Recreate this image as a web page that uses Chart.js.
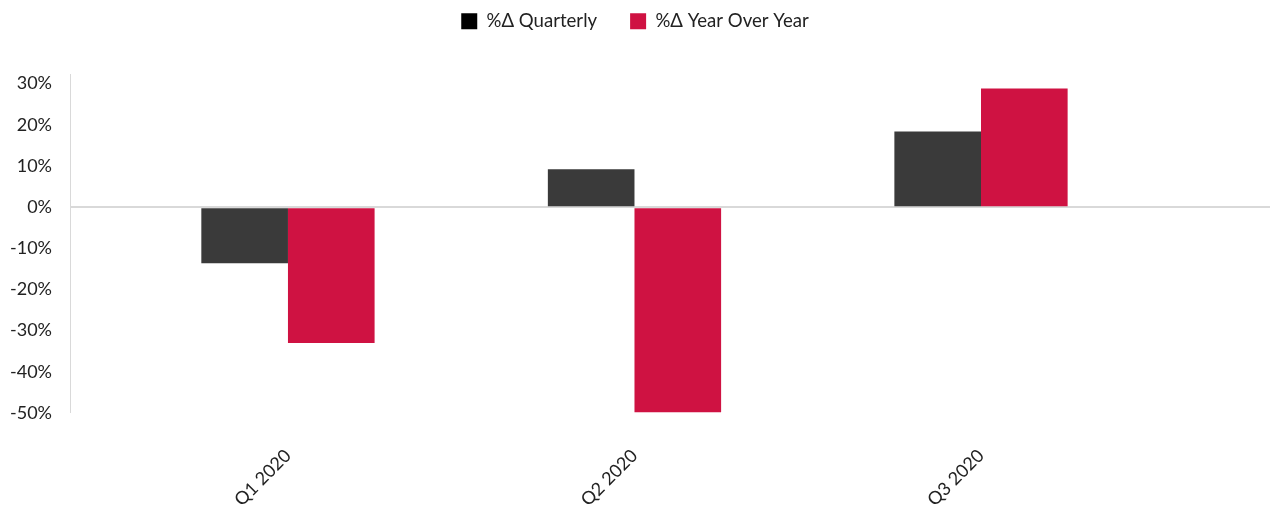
<!DOCTYPE html>
<html>
<head>
<meta charset="utf-8">
<script src="https://cdn.jsdelivr.net/npm/chart.js@4/dist/chart.umd.min.js"></script>
<style>
  html, body { margin: 0; padding: 0; background: #ffffff; }
  #wrap { width: 1270px; height: 510px; position: relative; }
</style>
</head>
<body>
<div id="wrap"><canvas id="c"></canvas></div>
<script>
// ---- data ----
const categories = ['Q1 2020', 'Q2 2020', 'Q3 2020'];
const quarterly = [-13.6, 9.2, 18.4];
const yearOverYear = [-33.0, -49.8, 28.8];
const seriesNames = ['%\u0394 Quarterly', '%\u0394 Year Over Year'];
const yTicks = [-50, -40, -30, -20, -10, 0, 10, 20, 30];

// ---- styles ----
const DARK = '#3a3a3a';
const RED = '#cf1242';
const TEXT = '#222222';
const FONT = 'Lato, "Open Sans", sans-serif';

const toPoints = (vals) => categories.map((c, i) => ({ x: i, y: vals[i] }));

const legendSpacer = {
  id: 'legendSpacer',
  beforeInit(chart) {
    const lg = chart.legend;
    if (!lg) return;
    const orig = lg.fit;
    lg.fit = function () {
      orig.call(this);
      this.height += 34;
    };
  }
};

Chart.defaults.font.family = FONT;
Chart.defaults.color = TEXT;

new Chart(document.getElementById('c'), {
  type: 'bar',
  data: {
    datasets: [
      { label: seriesNames[0], data: toPoints(quarterly), backgroundColor: DARK, borderWidth: 0 },
      { label: seriesNames[1], data: toPoints(yearOverYear), backgroundColor: RED, borderWidth: 0 }
    ]
  },
  options: {
    responsive: true,
    maintainAspectRatio: false,
    devicePixelRatio: 1,
    animation: false,
    datasets: { bar: { categoryPercentage: 0.5, barPercentage: 1.0 } },
    layout: { padding: { top: -21, left: 0, right: 0, bottom: 0 } },
    plugins: {
      tooltip: { enabled: false },
      legend: {
        position: 'top',
        labels: {
          boxWidth: 16,
          boxHeight: 16,
          padding: 33,
          color: TEXT,
          font: { family: FONT, size: 18.6 },
          generateLabels(chart) {
            const items = Chart.defaults.plugins.legend.labels.generateLabels(chart);
            items.forEach((it, i) => {
              const col = i === 0 ? '#000000' : RED;
              it.fillStyle = col;
              it.strokeStyle = col;
              it.lineWidth = 0;
            });
            return items;
          }
        }
      }
    },
    scales: {
      x: {
        type: 'linear',
        offset: false,
        bounds: 'data',
        min: -0.629,
        max: 2.834,
        grid: { display: false, offset: false },
        border: { display: false },
        afterFit(s) { s.height = 97; },
        afterBuildTicks(s) { s.ticks = categories.map((c, i) => ({ value: i })); },
        ticks: {
          autoSkip: false,
          minRotation: 45,
          maxRotation: 45,
          padding: 24,
          color: TEXT,
          font: { family: FONT, size: 18 },
          callback: (v) => categories[v] !== undefined ? categories[v] : ''
        }
      },
      y: {
        min: -50,
        max: 32.2,
        afterFit(s) { s.width = 70; },
        afterBuildTicks(s) { s.ticks = yTicks.map(v => ({ value: v })); },
        grid: {
          drawTicks: false,
          color: (ctx) => (ctx.tick && ctx.tick.value === 0) ? '#d9d9d9' : 'rgba(0,0,0,0)',
          lineWidth: (ctx) => (ctx.tick && ctx.tick.value === 0) ? 2 : 0
        },
        border: { display: true, color: '#d9d9d9', width: 1 },
        ticks: {
          padding: 18,
          color: TEXT,
          font: { family: FONT, size: 18 },
          callback: (v) => v + '%'
        }
      }
    }
  },
  plugins: [legendSpacer]
});
</script>
</body>
</html>
